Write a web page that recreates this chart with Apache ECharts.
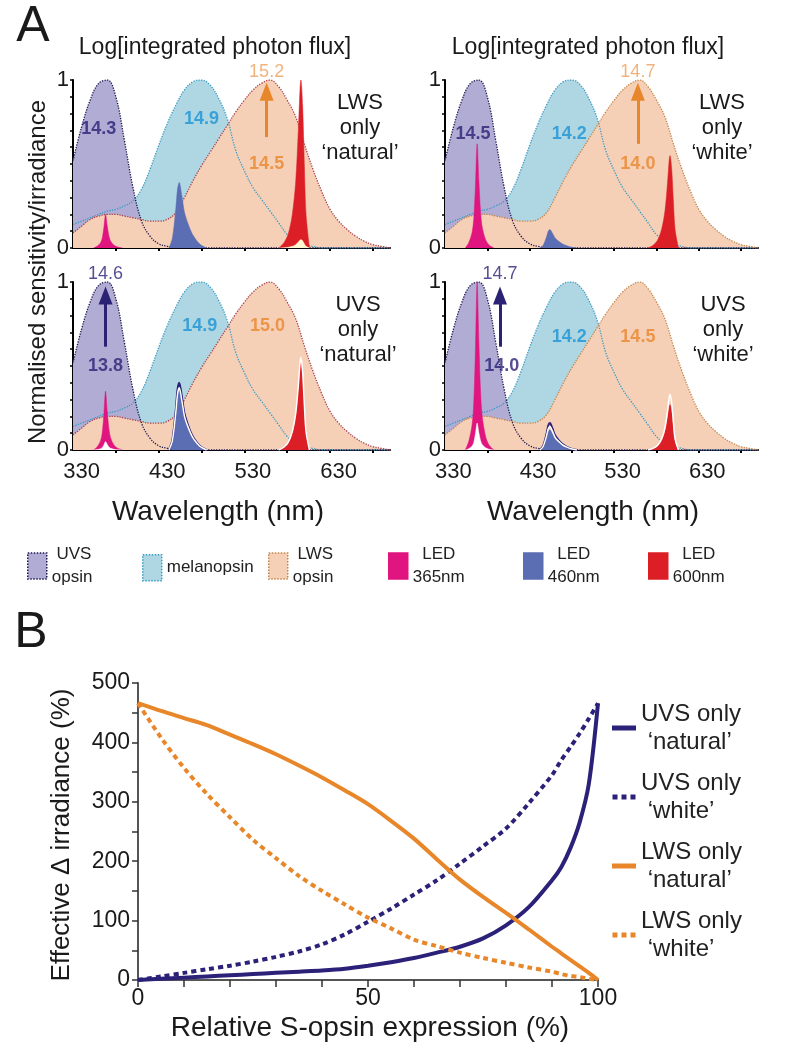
<!DOCTYPE html>
<html>
<head>
<meta charset="utf-8">
<script src="https://cdn.jsdelivr.net/npm/echarts@6/dist/echarts.min.js"></script>
<style>
html, body { margin: 0; padding: 0; background: #fff; }
#chart { width: 810px; height: 1050px; }
</style>
</head>
<body>
<div id="chart"></div>
<script>
// ---- panel A: normalised opsin templates, sampled every 10 nm ----
var wavelengths = [320,330,340,350,360,370,380,390,400,410,420,430,440,450,460,470,480,490,500,510,
                   520,530,540,550,560,570,580,590,600,610,620,630,640,650,660,670,680,690];
var uvsOpsin = [0.52,0.72,0.88,0.98,1.00,0.90,0.64,0.36,0.16,0.07,0.025,0.01,0,0,0,0,0,0,0,0,
                0,0,0,0,0,0,0,0,0,0,0,0,0,0,0,0,0,0];
var melanopsin = [0.14,0.16,0.18,0.20,0.22,0.23,0.25,0.28,0.35,0.47,0.61,0.74,0.85,0.94,0.99,1.00,0.97,0.89,0.77,0.58,
                  0.46,0.36,0.29,0.22,0.15,0.08,0.04,0.02,0.01,0,0,0,0,0,0,0,0,0];
var lwsOpsin = [0.09,0.13,0.17,0.19,0.20,0.20,0.19,0.18,0.17,0.16,0.16,0.17,0.21,0.30,0.40,0.49,0.57,0.65,0.73,0.81,
                0.88,0.94,0.98,1.00,0.96,0.88,0.78,0.62,0.47,0.34,0.23,0.16,0.11,0.07,0.04,0.02,0.01,0];

// LED emission shapes (peak = 1)
var led365Nm = [344,348,352,354,356,358,360,362,364,368,372,378];
var led365Shape = [0,0.05,0.15,0.28,0.6,1,0.65,0.35,0.2,0.08,0.03,0];
var led460Nm = [432,436,440,442,444,447,450,454,459,464,469,476];
var led460Shape = [0,0.15,0.6,0.9,1,0.8,0.55,0.38,0.22,0.12,0.05,0];
var led600Nm = [560,566,571,576,580,583,585,586,588,590,592,596];
var led600Shape = [0,0.03,0.08,0.2,0.4,0.7,0.95,1,0.85,0.5,0.2,0];

// per panel: LWS natural, LWS white, UVS natural, UVS white
var led365Peak = [0.20, 0.62, 0.35, 1.00];
var led460Peak = [0.39, 0.11, 0.40, 0.12];
var led600Peak = [1.00, 0.55, 0.52, 0.27];
var white365Peak = [0, 0, 0.05, 0.16];
var white600Peak = [0.05, 0, 0, 0];
var outline460Peak = [0, 0, 0.40, 0.16];
var whiteLine460Peak = [0, 0, 0.37, 0.14];
var whiteLine600Peak = [0, 0, 0.55, 0.33];

var panelTitles = ['LWS\nonly\n\u2018natural\u2019', 'LWS\nonly\n\u2018white\u2019',
                   'UVS\nonly\n\u2018natural\u2019', 'UVS\nonly\n\u2018white\u2019'];
// flux labels: [nm, y, text, colour key, bold]
var fluxLabels = [
  [[350,0.71,'14.3','uvs',1],[470,0.77,'14.9','mel',1],[546,1.05,'15.2','lwsLight',0],[546,0.50,'14.5','lws',1]],
  [[353,0.68,'14.5','uvs',1],[467,0.68,'14.2','mel',1],[548,1.05,'14.7','lwsLight',0],[548,0.50,'14.0','lws',1]],
  [[358,1.05,'14.6','uvs',0],[358,0.50,'13.8','uvs',1],[468,0.74,'14.9','mel',1],[547,0.74,'15.0','lws',1]],
  [[385,1.05,'14.7','uvs',0],[387,0.50,'14.0','uvs',1],[467,0.67,'14.2','mel',1],[548,0.67,'14.5','lws',1]]
];
var arrowX = [546, 548, 358, 385];
var arrowFrom = [0.66, 0.62, 0.615, 0.615];
var arrowTo = [0.93, 0.93, 0.92, 0.92];
var arrowColor = ['lws', 'lws', 'uvs', 'uvs'];

// ---- panel B ----
var sOpsinPct = [0,5,10,15,20,25,30,35,40,45,50,55,60,65,70,75,80,85,90,92,94,96,98,100];
var uvsNatural = [0,2,4,6,8,10,12,14,16,19,24,30,37,46,56,70,92,123,168,190,222,265,330,466];
var uvsWhite = [0,6,12,18,24,31,39,48,60,77,98,120,144,168,196,225,255,298,345,370,392,415,440,466];
var lwsNatural = [466,453,441,429,413,397,380,361,341,319,296,268,238,203,169,140,113,85,56,45,34,23,12,0];
var lwsWhite = [466,408,357,313,274,236,205,175,150,127,105,87,68,57,46,37,29,21,14,10,7,5,2,0];

var C = {
  uvs: '#2a2275', mel: '#1b93d3', lws: '#e8862c', lwsLight: '#eda05c',
  uvsFill: '#b0acd4', melFill: '#afd7e3', lwsFill: '#f6cfb7',
  uvsLine: '#1d1850', melLine: '#3a9cc4',
  led365: '#e0157f', led460: '#5b6db3', led600: '#dc1f26',
  navyB: '#2b2179', orangeB: '#e8872a'
};
var lwsLineCol = ['#a8424f', '#c4864c', '#a8424f', '#c4864c'];
var fontA = '"Liberation Sans", Arial, sans-serif';

var chart = echarts.init(document.getElementById('chart'));

function pairs(xs, ys, k) {
  return xs.map(function (x, i) { return [x, ys[i] * (k === undefined ? 1 : k)]; });
}

var panelGrids = [
  { left: 73, top: 80, width: 317, height: 168 },
  { left: 445, top: 80, width: 313, height: 168 },
  { left: 73, top: 282, width: 317, height: 168 },
  { left: 445, top: 282, width: 313, height: 168 }
];

var grids = [], xAxes = [], yAxes = [], series = [];

panelGrids.forEach(function (g, p) {
  grids.push(g);
  xAxes.push({
    type: 'value', gridIndex: p, min: 320, max: 690,
    axisLine: { onZero: false, lineStyle: { color: '#000', width: 2 } },
    axisTick: { customValues: [370, 420, 470, 520, 570, 620, 670], length: 3, lineStyle: { color: '#000', width: 2 } },
    axisLabel: { show: p >= 2, customValues: [330, 430, 530, 630], fontSize: 22, color: '#1a1a1a', margin: 11, fontFamily: fontA },
    splitLine: { show: false }
  });
  yAxes.push({
    type: 'value', gridIndex: p, min: 0, max: 1, interval: 0.1,
    axisLine: { show: true, lineStyle: { color: '#000', width: 2 } },
    axisTick: { show: true, length: 3, lineStyle: { color: '#000', width: 1.5 } },
    axisLabel: { customValues: [0, 1], fontSize: 22, color: '#1a1a1a', margin: 4, fontFamily: fontA },
    splitLine: { show: false }
  });

  var base = { type: 'line', xAxisIndex: p, yAxisIndex: p, symbol: 'none', silent: true, animation: false };
  function fill(name, ys, col, z) {
    series.push(Object.assign({}, base, {
      name: name, data: pairs(wavelengths, ys), smooth: 0.4, z: z,
      itemStyle: { color: col }, lineStyle: { width: 0 }, areaStyle: { color: col, opacity: 1 }
    }));
  }
  function outline(ys, col, z) {
    series.push(Object.assign({}, base, {
      name: 'outline', data: pairs(wavelengths, ys), smooth: 0.4, z: z,
      lineStyle: { color: col, width: 1.3, type: 'dotted' }
    }));
  }
  fill('melanopsin', melanopsin, C.melFill, 2);
  fill('UVS opsin', uvsOpsin, C.uvsFill, 3);
  fill('LWS opsin', lwsOpsin, C.lwsFill, 4);
  outline(melanopsin, C.melLine, 5);
  outline(uvsOpsin, C.uvsLine, 5);
  outline(lwsOpsin, lwsLineCol[p], 5);

  function led(name, xs, shape, k, col, z) {
    if (!k) return;
    series.push(Object.assign({}, base, {
      name: name, data: pairs(xs, shape, k), smooth: 0.3, z: z,
      itemStyle: { color: col },
      lineStyle: { width: 0.5, color: col },
      areaStyle: { color: col, opacity: 1 }
    }));
  }
  function ledLine(xs, shape, k, col, w, z) {
    if (!k) return;
    series.push(Object.assign({}, base, {
      name: 'ledline', data: pairs(xs, shape, k), smooth: 0.3, z: z,
      lineStyle: { color: col, width: w }
    }));
  }
  led('LED 365nm', led365Nm, led365Shape, led365Peak[p], C.led365, 6);
  led('white365', led365Nm, led365Shape, white365Peak[p], '#ffffff', 7);
  led('LED 460nm', led460Nm, led460Shape, led460Peak[p], C.led460, 6);
  ledLine(led460Nm, led460Shape, outline460Peak[p], C.uvs, 2, 7);
  ledLine(led460Nm, led460Shape, whiteLine460Peak[p], '#ffffff', 1.5, 8);
  led('LED 600nm', led600Nm, led600Shape, led600Peak[p], C.led600, 6);
  led('white600', led600Nm, led600Shape, white600Peak[p], '#fff8d0', 7);
  ledLine(led600Nm, led600Shape, whiteLine600Peak[p], '#ffffff', 1.5, 8);

  // flux numbers and arrow
  series.push({
    type: 'scatter', xAxisIndex: p, yAxisIndex: p, symbolSize: 0, silent: true, z: 10, animation: false, clip: false,
    data: fluxLabels[p].map(function (f) {
      return {
        value: [f[0], f[1]],
        label: {
          show: true, position: 'inside', formatter: f[2], fontSize: 18, fontFamily: fontA,
          fontWeight: f[4] ? 'bold' : 'normal', color: C[f[3]]
        }
      };
    }),
    markLine: {
      silent: true, animation: false, symbol: ['none', 'triangle'], symbolSize: [14, 18],
      label: { show: false },
      lineStyle: { color: C[arrowColor[p]], width: 3, type: 'solid' },
      data: [[{ coord: [arrowX[p], arrowFrom[p]] }, { coord: [arrowX[p], arrowTo[p]] }]]
    }
  });
});

// ---- panel B grid ----
grids.push({ left: 138, top: 683, width: 460, height: 297 });
xAxes.push({
  type: 'value', gridIndex: 4, min: 0, max: 100, interval: 10,
  axisLine: { onZero: false, lineStyle: { color: '#555', width: 2 } },
  axisTick: { length: 7, lineStyle: { color: '#333', width: 1.5 } },
  axisLabel: { customValues: [0, 50, 100], fontSize: 23, color: '#1a1a1a', margin: 7, fontFamily: fontA },
  splitLine: { show: false }
});
yAxes.push({
  type: 'value', gridIndex: 4, min: 0, max: 500, interval: 50,
  axisLine: { show: true, lineStyle: { color: '#555', width: 2 } },
  axisTick: { show: true, length: 6, lineStyle: { color: '#333', width: 1.5 } },
  axisLabel: { customValues: [0, 100, 200, 300, 400, 500], fontSize: 23, color: '#1a1a1a', margin: 8, fontFamily: fontA },
  splitLine: { show: false }
});
function bLine(name, ys, col, dotted) {
  series.push({
    name: name, type: 'line', xAxisIndex: 4, yAxisIndex: 4, symbol: 'none', smooth: 0.3,
    animation: false, data: pairs(sOpsinPct, ys), itemStyle: { color: col },
    lineStyle: { color: col, width: 4, type: dotted ? [5, 4] : 'solid' }
  });
}
var bNames = ['UVS only \u2018natural\u2019', 'UVS only \u2018white\u2019', 'LWS only \u2018natural\u2019', 'LWS only \u2018white\u2019'];
bLine(bNames[0], uvsNatural, C.navyB, false);
bLine(bNames[1], uvsWhite, C.navyB, true);
bLine(bNames[2], lwsNatural, C.orangeB, false);
bLine(bNames[3], lwsWhite, C.orangeB, true);

// ---- legends ----
var legendA = [
  { name: 'UVS opsin', left: 27, fill: C.uvsFill, border: C.uvsLine, dotted: true },
  { name: 'melanopsin', left: 142, fill: C.melFill, border: C.melLine, dotted: true },
  { name: 'LWS opsin', left: 268, fill: C.lwsFill, border: '#c4864c', dotted: true },
  { name: 'LED 365nm', left: 388, fill: C.led365, border: C.led365, dotted: false },
  { name: 'LED 460nm', left: 523, fill: C.led460, border: C.led460, dotted: false },
  { name: 'LED 600nm', left: 648, fill: C.led600, border: C.led600, dotted: false }
];
var legends = legendA.map(function (l) {
  return {
    left: l.left - 5, top: l.name === 'melanopsin' ? 549 : 538,
    selectedMode: false, itemWidth: 19, itemHeight: 26, itemGap: 0,
    data: [{
      name: l.name, icon: 'rect',
      itemStyle: { color: l.fill, borderColor: l.border, borderWidth: 1.5, borderType: l.dotted ? 'dotted' : 'solid' }
    }],
    formatter: function (n) {
      if (n === 'melanopsin') return n;
      var parts = n.split(' ');
      return (parts[0] === 'LED' ? '  ' : ' ') + parts[0] + '\n' + parts[1];
    },
    textStyle: { fontSize: 17, lineHeight: 23, color: '#222', fontFamily: fontA }
  };
});
var dotIcon = 'path://M0,0h5v5h-5z M9,0h5v5h-5z M18,0h5v5h-5z';
legends.push({
  left: 607, top: 695, orient: 'vertical', selectedMode: false, itemWidth: 24, itemHeight: 5, itemGap: 13,
  data: bNames.map(function (n, i) {
    var col = i < 2 ? C.navyB : C.orangeB;
    return { name: n, icon: i % 2 ? dotIcon : 'rect', itemStyle: { color: col, borderWidth: 0 } };
  }),
  formatter: function (n) { return n.replace(' \u2018', '\n \u2018'); },
  textStyle: { fontSize: 24, lineHeight: 28, color: '#222', fontFamily: fontA }
});

// ---- text ----
function txt(x, y, s, size, extra) {
  return {
    type: 'text', x: x, y: y, silent: true,
    style: Object.assign({ text: s, fontSize: size, fontFamily: fontA, fill: '#1a1a1a', textAlign: 'center', textVerticalAlign: 'middle' }, extra || {})
  };
}
function vtxt(x, y, s, size) {
  var t = txt(x, y, s, size);
  t.rotation = Math.PI / 2;
  return t;
}
var graphics = [
  txt(33, 27, 'A', 50),
  txt(31, 633, 'B', 50),
  txt(215, 48, 'Log[integrated photon flux]', 23),
  txt(588, 48, 'Log[integrated photon flux]', 23),
  txt(218, 512, 'Wavelength (nm)', 28),
  txt(593, 512, 'Wavelength (nm)', 28),
  txt(360, 128, panelTitles[0], 22, { lineHeight: 25 }),
  txt(722, 128, panelTitles[1], 22, { lineHeight: 25 }),
  txt(358, 330, panelTitles[2], 22, { lineHeight: 25 }),
  txt(723, 330, panelTitles[3], 22, { lineHeight: 25 }),
  txt(370, 1028, 'Relative S-opsin expression (%)', 28),
  vtxt(38, 272, 'Normalised sensitivity/irradiance', 24),
  vtxt(62, 835, 'Effective \u0394 irradiance (%)', 26)
];

chart.setOption({
  animation: false,
  backgroundColor: '#fff',
  grid: grids,
  xAxis: xAxes,
  yAxis: yAxes,
  legend: legends,
  graphic: graphics,
  series: series
});
</script>
</body>
</html>
